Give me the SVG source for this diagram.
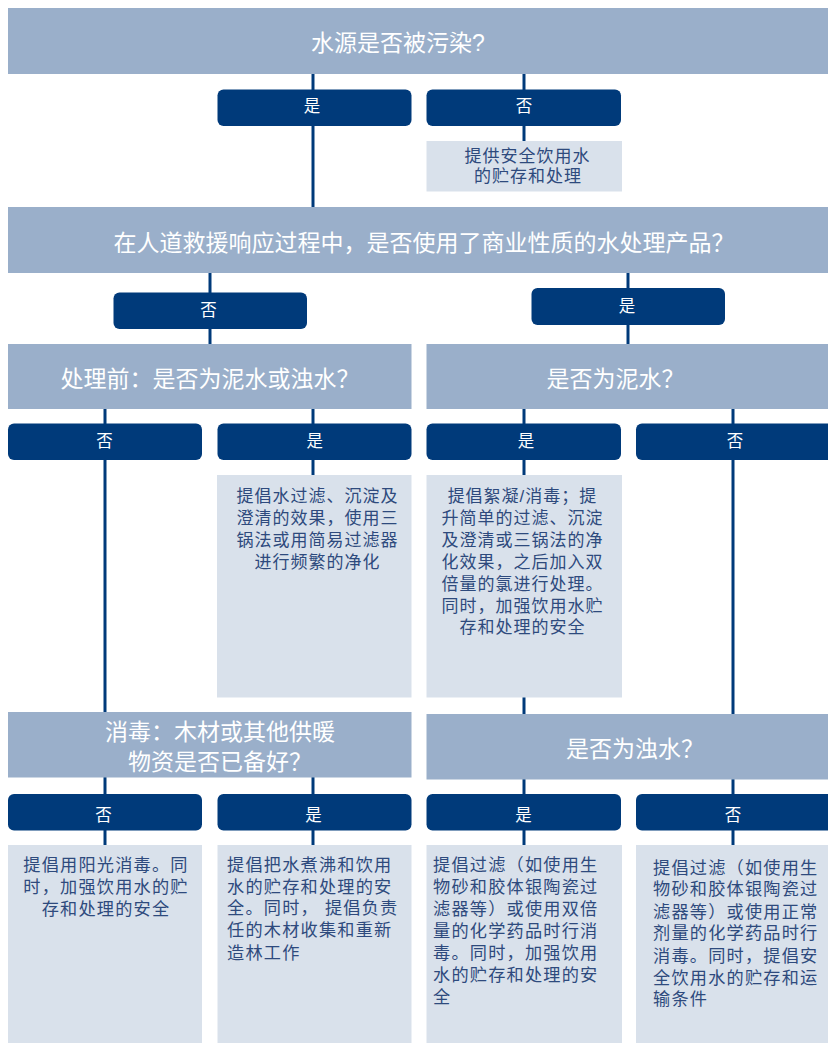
<svg xmlns="http://www.w3.org/2000/svg" width="828" height="1043" viewBox="0 0 828 1043" lang="zh-CN">
<style>
.q{fill:#9aafca}
.b{fill:#003a7a}
.l{fill:#d9e1eb}
.qt{font-family:"Liberation Sans","Noto Sans CJK SC",sans-serif;font-size:23px;fill:#ffffff}
.bt{font-family:"Noto Sans CJK SC","Noto Sans",sans-serif;font-size:16.5px;fill:#ffffff;text-anchor:middle}
.lt{font-family:"Liberation Sans","Noto Sans CJK SC",sans-serif;font-size:17px;letter-spacing:1px;fill:#2e4a7d}
.ls{font-family:"Liberation Sans","Noto Sans CJK SC",sans-serif;font-size:17.2px;letter-spacing:1.2px;fill:#2e4a7d}
.c{text-anchor:middle}
.conn line{stroke:#003a7a;stroke-width:3}
</style>
<rect width="828" height="1043" fill="#ffffff"/>
<g id="connectors" class="conn">
<line x1="313" y1="74" x2="313" y2="207"/>
<line x1="524" y1="74" x2="524" y2="141"/>
<line x1="210" y1="273" x2="210" y2="344"/>
<line x1="628" y1="273" x2="628" y2="344"/>
<line x1="105" y1="409" x2="105" y2="712"/>
<line x1="313" y1="409" x2="313" y2="475"/>
<line x1="524" y1="409" x2="524" y2="714"/>
<line x1="733" y1="409" x2="733" y2="714"/>
<line x1="105" y1="777" x2="105" y2="845"/>
<line x1="313" y1="777" x2="313" y2="845"/>
<line x1="524" y1="779" x2="524" y2="845"/>
<line x1="733" y1="779" x2="733" y2="845"/>
</g>
<g id="q1"><rect class="q" x="8" y="8" width="820" height="66"/><text class="qt" x="311" y="50.7">水源是否被污染?</text></g>
<g id="q1-yes"><rect class="b" x="217.5" y="89.5" width="194" height="36.5" rx="6"/><text class="bt" x="312" y="112">是</text></g>
<g id="q1-no"><rect class="b" x="426.5" y="89.5" width="194.5" height="36.5" rx="6"/><text class="bt" x="524" y="112">否</text></g>
<g id="a1"><rect class="l" x="426.5" y="141" width="195.5" height="50.5"/><text class="lt c"><tspan x="527.5" y="161.5">提供安全饮用水</tspan><tspan x="528" y="181.5">的贮存和处理</tspan></text></g>
<g id="q2"><rect class="q" x="8" y="207" width="820" height="66"/><text class="qt" x="113.5" y="251">在人道救援响应过程中，是否使用了商业性质的水处理产品？</text></g>
<g id="q2-no"><rect class="b" x="113.5" y="292.5" width="193.5" height="36.5" rx="6"/><text class="bt" x="208.6" y="316.3">否</text></g>
<g id="q2-yes"><rect class="b" x="531.5" y="288" width="193.5" height="37" rx="6"/><text class="bt" x="627" y="311.8">是</text></g>
<g id="q3"><rect class="q" x="8" y="344" width="403.5" height="65"/><text class="qt" x="60.5" y="386.7">处理前：是否为泥水或浊水？</text></g>
<g id="q4"><rect class="q" x="426.5" y="344" width="401.5" height="65"/><text class="qt" x="546.5" y="386.7">是否为泥水？</text></g>
<g id="q3-no"><rect class="b" x="8" y="423.5" width="194" height="36.5" rx="6"/><text class="bt" x="104.5" y="446.8">否</text></g>
<g id="q3-yes"><rect class="b" x="217.5" y="423.5" width="194" height="36.5" rx="6"/><text class="bt" x="314.7" y="446.8">是</text></g>
<g id="q4-yes"><rect class="b" x="426.5" y="423.5" width="194.5" height="36.5" rx="6"/><text class="bt" x="526" y="446.8">是</text></g>
<g id="q4-no"><rect class="b" x="636" y="423.5" width="198" height="36.5" rx="6"/><text class="bt" x="735" y="446.8">否</text></g>
<g id="a3"><rect class="l" x="217" y="475" width="194.5" height="222.5"/>
<text class="lt c"><tspan x="317.5" y="501.5">提倡水过滤、沉淀及</tspan><tspan x="317.5" y="524">澄清的效果，使用三</tspan><tspan x="317.5" y="546.3">锅法或用简易过滤器</tspan><tspan x="317.5" y="567.8">进行频繁的净化</tspan></text></g>
<g id="a4"><rect class="l" x="426.5" y="475" width="195.5" height="222.5"/>
<text class="lt c"><tspan x="522.5" y="501.5">提倡絮凝/消毒；提</tspan><tspan x="522.5" y="523.7">升简单的过滤、沉淀</tspan><tspan x="522.5" y="546.2">及澄清或三锅法的净</tspan><tspan x="522.5" y="568.2">化效果，之后加入双</tspan><tspan x="522.5" y="589.7">倍量的氯进行处理。</tspan><tspan x="522.5" y="611.7">同时，加强饮用水贮</tspan><tspan x="522.5" y="632.7">存和处理的安全</tspan></text></g>
<g id="q5"><rect class="q" x="8" y="712" width="403.5" height="65.5"/><text class="qt"><tspan x="105" y="740.4">消毒：木材或其他供暖</tspan><tspan x="128" y="769.7">物资是否已备好？</tspan></text></g>
<g id="q6"><rect class="q" x="426.5" y="714" width="401.5" height="65.5"/><text class="qt" x="566" y="756.7">是否为浊水？</text></g>
<g id="q5-no"><rect class="b" x="8" y="794" width="194" height="36.5" rx="6"/><text class="bt" x="103.5" y="821">否</text></g>
<g id="q5-yes"><rect class="b" x="217.5" y="794" width="194" height="36.5" rx="6"/><text class="bt" x="313.6" y="821">是</text></g>
<g id="q6-yes"><rect class="b" x="426.5" y="794" width="194.5" height="36.5" rx="6"/><text class="bt" x="523.6" y="821">是</text></g>
<g id="q6-no"><rect class="b" x="636" y="794" width="198" height="36.5" rx="6"/><text class="bt" x="733" y="821">否</text></g>
<g id="a5"><rect class="l" x="8" y="845" width="194" height="198"/>
<text class="ls c"><tspan x="106" y="870.7">提倡用阳光消毒。同</tspan><tspan x="106" y="892.7">时，加强饮用水的贮</tspan><tspan x="106" y="914.7">存和处理的安全</tspan></text></g>
<g id="a6"><rect class="l" x="217.5" y="845" width="194" height="198"/>
<text class="ls"><tspan x="227" y="870.7">提倡把水煮沸和饮用</tspan><tspan x="227" y="892.7">水的贮存和处理的安</tspan><tspan x="227" y="914.2">全。同时， 提倡负责</tspan><tspan x="227" y="936.2">任的木材收集和重新</tspan><tspan x="227" y="958.7">造林工作</tspan></text></g>
<g id="a7"><rect class="l" x="426.5" y="845" width="195.5" height="198"/>
<text class="ls"><tspan x="433" y="870.7">提倡过滤（如使用生</tspan><tspan x="433" y="892.7">物砂和胶体银陶瓷过</tspan><tspan x="433" y="914.7">滤器等）或使用双倍</tspan><tspan x="433" y="936.7">量的化学药品时行消</tspan><tspan x="433" y="958.7">毒。同时，加强饮用</tspan><tspan x="433" y="980.7">水的贮存和处理的安</tspan><tspan x="433" y="1002.7">全</tspan></text></g>
<g id="a8"><rect class="l" x="636" y="845" width="192" height="198"/>
<text class="ls"><tspan x="653" y="873.7">提倡过滤（如使用生</tspan><tspan x="653" y="895.2">物砂和胶体银陶瓷过</tspan><tspan x="653" y="917.7">滤器等）或使用正常</tspan><tspan x="653" y="939.2">剂量的化学药品时行</tspan><tspan x="653" y="961.7">消毒。同时，提倡安</tspan><tspan x="653" y="983.7">全饮用水的贮存和运</tspan><tspan x="653" y="1005.2">输条件</tspan></text></g>
</svg>
